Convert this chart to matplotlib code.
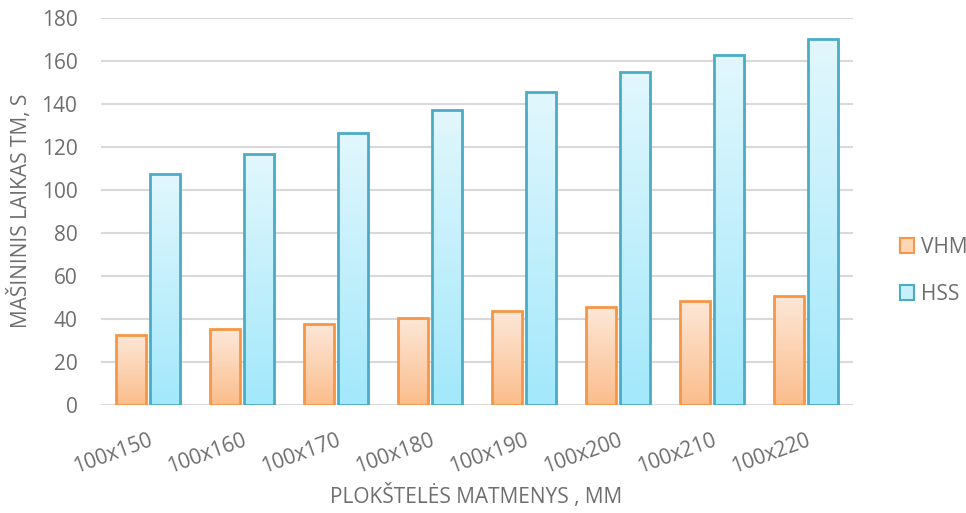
import numpy as np
import matplotlib
matplotlib.use("Agg")
import matplotlib.pyplot as plt
from matplotlib.colors import LinearSegmentedColormap
from matplotlib.patches import Rectangle, Patch

categories = ["100x150", "100x160", "100x170", "100x180", "100x190", "100x200", "100x210", "100x220"]
vhm = [32.6, 35.3, 37.7, 40.5, 43.7, 45.6, 48.4, 50.7]
hss = [107.4, 116.7, 126.5, 137.2, 145.6, 154.9, 162.8, 170.2]
yticks = [0, 20, 40, 60, 80, 100, 120, 140, 160, 180]

plt.rcParams['font.family'] = ['Open Sans', 'DejaVu Sans']
fig = plt.figure(figsize=(9.66, 5.13), dpi=100)
ax = fig.add_axes([101/966, 1 - 405/513, 752/966, 387/513])

x = np.arange(len(categories))
w = 0.32
off = 0.185
txt = '#6e6e6e'
fs = 15

ax.set_xlim(-0.5, len(categories) - 0.5)
ax.set_ylim(0, 180)
ax.set_yticks(yticks)
ax.yaxis.grid(True, color='#d9d9d9', linewidth=1.5)
ax.set_axisbelow(True)
for s in ax.spines.values():
    s.set_visible(False)
ax.tick_params(length=0)
ax.tick_params(axis='y', labelsize=fs, labelcolor=txt, pad=17)
ax.set_xticks(x)
ax.set_xticklabels(categories, rotation=20, ha='right', rotation_mode='anchor',
                   fontsize=fs, color=txt)
ax.tick_params(axis='x', pad=18)

cm_v = LinearSegmentedColormap.from_list('v', ['#fbbd8c', '#fde8d8'])
cm_h = LinearSegmentedColormap.from_list('h', ['#a2e8fb', '#e2f7fd'])

def gbar(xs, vals, cmap, edge, label):
    bars = ax.bar(xs, vals, w, facecolor='none', edgecolor=edge, linewidth=2, zorder=3, label=label)
    grad = np.linspace(0, 1, 256).reshape(-1, 1)
    for b in bars:
        x0, y0 = b.get_x(), b.get_y()
        bw, bh = b.get_width(), b.get_height()
        ax.add_patch(Rectangle((x0 + 0.02, y0), bw, bh - 0.8, facecolor='#000000', alpha=0.08,
                               edgecolor='none', zorder=2))
        im = ax.imshow(grad, extent=[x0, x0 + bw, y0, y0 + bh], origin='lower', cmap=cmap,
                       aspect='auto', zorder=2.5)
        clip = Rectangle((x0, y0), bw, bh, transform=ax.transData)
        im.set_clip_path(clip)
    return bars

gbar(x - off, vhm, cm_v, '#f79646', 'VHM')
gbar(x + off, hss, cm_h, '#4bacc6', 'HSS')
ax.set_xlim(-0.5, len(categories) - 0.5)
ax.set_ylim(0, 180)

handles = [Patch(facecolor='#fdd6b5', edgecolor='#f79646', linewidth=1.5, label='VHM'),
           Patch(facecolor='#c8f0fc', edgecolor='#4bacc6', linewidth=1.5, label='HSS')]
fig.legend(handles=handles, loc='upper left', bbox_to_anchor=(881/966, 1 - 218/513),
           frameon=False, fontsize=fs, labelcolor=txt, handlelength=0.7, handleheight=0.7,
           handletextpad=0.3, labelspacing=1.25)

fig.text(476/966, 1 - 496/513, 'PLOKŠTELĖS MATMENYS , MM', ha='center', va='center',
         fontsize=fs, color=txt)
fig.text(20/966, 1 - 211/513, 'MAŠININIS LAIKAS TM, S', ha='center', va='center',
         rotation=90, fontsize=fs, color=txt)

fig.savefig('out.png', dpi=100)
